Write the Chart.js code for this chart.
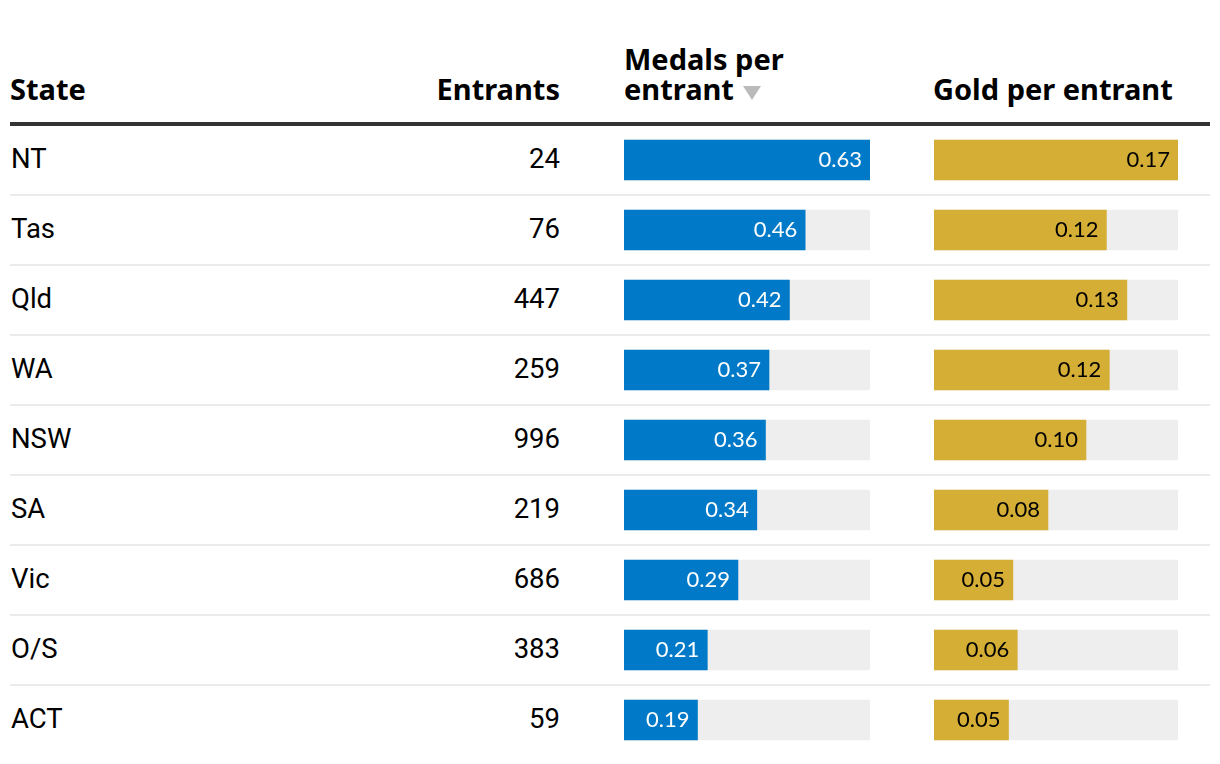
<!DOCTYPE html>
<html>
<head>
<meta charset="utf-8">
<script src="https://cdn.jsdelivr.net/npm/chart.js@4"></script>
<style>
  html, body { margin:0; padding:0; background:#fff; }
  #wrap { position:relative; width:1220px; height:764px; overflow:hidden; font-family:Roboto,'Liberation Sans',sans-serif; color:#000; }
  .hdr { position:absolute; font-family:'Noto Sans',sans-serif; font-weight:700; font-size:29px; line-height:30px; color:#000; white-space:nowrap; }
  .cell { position:absolute; height:70px; line-height:68px; font-size:27.5px; white-space:nowrap; }
  .sep { position:absolute; left:10px; width:1200px; height:2px; background:#ebebeb; }
  .tri { display:inline-block; width:0; height:0; border-left:9px solid transparent; border-right:9px solid transparent; border-top:14px solid #bbbbbb; margin-left:9px; }
  .cv { position:absolute; }
</style>
</head>
<body>
<div id="wrap">
  <div class="hdr" style="left:10px; top:74px;">State</div>
  <div class="hdr" style="left:360px; width:200px; text-align:right; top:74px;">Entrants</div>
  <div class="hdr" style="left:624px; top:44px;">Medals per<br>entrant<span class="tri"></span></div>
  <div class="hdr" style="left:933px; top:74px;">Gold per entrant</div>
  <div style="position:absolute; left:10px; top:122px; width:1200px; height:4px; background:#333;"></div>
  <div id="rows"></div>
  <div class="cv" style="left:624px; top:125px; width:246px; height:630px;"><canvas id="c1"></canvas></div>
  <div class="cv" style="left:934px; top:125px; width:244px; height:630px;"><canvas id="c2"></canvas></div>
</div>
<script>
const states = ['NT','Tas','Qld','WA','NSW','SA','Vic','O/S','ACT'];
const entrants = [24, 76, 447, 259, 996, 219, 686, 383, 59];
const medalsPerEntrant = [0.626, 0.461, 0.421, 0.369, 0.36, 0.338, 0.29, 0.212, 0.187];
const goldPerEntrant = [0.167, 0.118, 0.132, 0.12, 0.104, 0.078, 0.054, 0.057, 0.051];

const rowTop = 125, rowH = 70;
const rows = document.getElementById('rows');
states.forEach((s, i) => {
  const top = rowTop + i * rowH;
  const a = document.createElement('div');
  a.className = 'cell'; a.style.left = '11px'; a.style.top = top + 'px'; a.textContent = s;
  rows.appendChild(a);
  const b = document.createElement('div');
  b.className = 'cell'; b.style.left = '360px'; b.style.width = '200px'; b.style.textAlign = 'right';
  b.style.top = top + 'px'; b.textContent = entrants[i];
  rows.appendChild(b);
  if (i < states.length - 1) {
    const l = document.createElement('div');
    l.className = 'sep'; l.style.top = (top + rowH - 1) + 'px';
    rows.appendChild(l);
  }
});

const labelPlugin = {
  id: 'barLabels',
  afterDatasetsDraw(chart, args, opts) {
    const ctx = chart.ctx;
    const meta = chart.getDatasetMeta(1);
    const data = chart.data.datasets[1].data;
    ctx.save();
    ctx.font = '400 22px Lato, "Open Sans", sans-serif';
    ctx.fillStyle = opts.color;
    ctx.textAlign = 'right';
    ctx.textBaseline = 'middle';
    meta.data.forEach((el, i) => {
      ctx.fillText(data[i].toFixed(2), el.x - 8, el.y);
    });
    ctx.restore();
  }
};

function makeChart(id, values, color, labelColor) {
  const maxV = Math.max(...values);
  new Chart(document.getElementById(id), {
    type: 'bar',
    data: {
      labels: states,
      datasets: [
        { data: values.map(() => maxV), backgroundColor: '#eeeeee', grouped: false, order: 2, barThickness: 40 },
        { data: values, backgroundColor: color, grouped: false, order: 1, barThickness: 40 }
      ]
    },
    options: {
      indexAxis: 'y',
      responsive: true,
      maintainAspectRatio: false,
      animation: false,
      layout: { padding: 0 },
      scales: {
        x: { display: false, min: 0, max: maxV },
        y: { display: false, offset: true }
      },
      plugins: { legend: { display: false }, tooltip: { enabled: false }, barLabels: { color: labelColor } }
    },
    plugins: [labelPlugin]
  });
}
makeChart('c1', medalsPerEntrant, '#007ac8', '#ffffff');
makeChart('c2', goldPerEntrant, '#d5ae36', '#000000');
</script>
</body>
</html>
